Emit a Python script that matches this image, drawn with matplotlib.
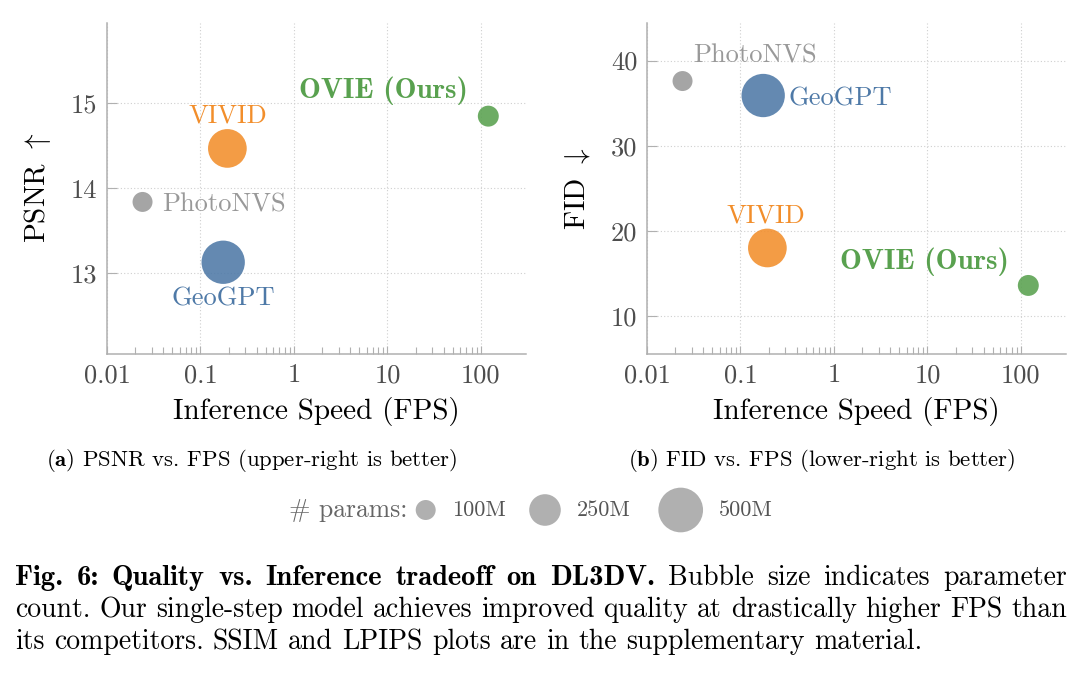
import matplotlib

matplotlib.use("Agg")
import matplotlib.pyplot as plt
import numpy as np

plt.rcParams["font.family"] = ["cmr10", "DejaVu Serif"]
plt.rcParams["mathtext.fontset"] = "cm"
plt.rcParams["axes.formatter.use_mathtext"] = True

# Data.
MODELS = ["PhotoNVS", "GeoGPT", "VIVID", "OVIE (Ours)"]
FPS = [0.024, 0.175, 0.194, 120.0]
PSNR = [13.84, 13.13, 14.47, 14.85]
FID = [37.6, 35.9, 18.0, 13.6]
PARAMS_M = [100, 470, 375, 110]
COLORS = ["#999999", "#4e79a7", "#f28e2b", "#59a14f"]

LEGEND_PARAMS = [100, 250, 500]
LEGEND_LABELS = ["100M", "250M", "500M"]

X_TICKS = [0.01, 0.1, 1, 10, 100]
X_TICK_LABELS = ["0.01", "0.1", "1", "10", "100"]
PSNR_TICKS = [13, 14, 15]
FID_TICKS = [10, 20, 30, 40]

# label offsets (points) relative to each bubble: (dx, dy, ha)
PSNR_LABEL_POS = [(14.2, 0.0, "left"), (0.4, -24.3, "center"), (0.5, 25.4, "center"), (-75.6, 20.7, "center")]
FID_LABEL_POS = [(52.0, 19.9, "center"), (18.2, -0.5, "left"), (-0.9, 25.4, "center"), (-74.9, 19.9, "center")]

CAPTION = [
    [("Fig. 6: Quality vs. Inference tradeoff on DL3DV.", True),
     ("Bubble size indicates parameter", False)],
    [("count. Our single-step model achieves improved quality at drastically higher FPS than", False)],
    [("its competitors. SSIM and LPIPS plots are in the supplementary material.", False)],
]

W, H = 1086, 673
SPINE = "#b0b0b0"
TICK_TEXT = "#4d4d4d"


def bubble_area(params):
    # area proportional to parameter count; 100M -> ~20 px diameter
    return 2.07 * np.asarray(params, dtype=float)


def draw_panel(ax, values, ylim, yticks, ylabel, label_pos):
    ax.scatter(FPS, values, s=bubble_area(PARAMS_M), c=COLORS, alpha=0.88,
               edgecolors="none", zorder=3)
    for name, x, y, color, (dx, dy, ha) in zip(MODELS, FPS, values, COLORS, label_pos):
        bold = name.startswith("OVIE")
        ax.annotate(name, (x, y), xytext=(dx, dy), textcoords="offset points",
                    ha=ha, va="center_baseline", color=color,
                    fontsize=21 if bold else 19,
                    family="cmb10" if bold else "cmr10", zorder=4)
    ax.set_xscale("log")
    ax.set_xlim(0.01, 300)
    ax.set_ylim(*ylim)
    ax.set_xticks(X_TICKS)
    ax.set_xticklabels(X_TICK_LABELS)
    minor = [m * d for d in (0.01, 0.1, 1, 10) for m in range(2, 10)]
    ax.set_xticks(minor, minor=True)
    ax.set_xticklabels([], minor=True)
    ax.set_yticks(yticks)
    ax.set_yticklabels([str(t) for t in yticks])
    ax.grid(True, which="major", color="#cfcfcf", linestyle=(0, (1, 2)), linewidth=0.8)
    ax.set_axisbelow(True)
    for side in ("top", "right"):
        ax.spines[side].set_visible(False)
    for side in ("left", "bottom"):
        ax.spines[side].set_color(SPINE)
        ax.spines[side].set_linewidth(1.1)
    ax.tick_params(which="both", direction="in", color=SPINE, width=0.8,
                   labelsize=19, labelcolor=TICK_TEXT)
    ax.tick_params(axis="x", which="major", length=6, pad=7)
    ax.tick_params(axis="x", which="minor", length=5)
    ax.tick_params(axis="y", which="major", length=7, pad=7)
    ax.set_xlabel("Inference Speed (FPS)", fontsize=21, va="center")
    ax.xaxis.set_label_coords(0.5, -0.174)
    ax.set_ylabel(ylabel, fontsize=21, va="center")
    ax.yaxis.set_label_coords(-0.167, 0.5)


fig = plt.figure(figsize=(W / 100, H / 100), dpi=100)
ax_a = fig.add_axes([107 / W, 1 - 354 / H, 418.5 / W, 331.3 / H])
ax_b = fig.add_axes([647 / W, 1 - 354 / H, 418.5 / W, 331.3 / H])
draw_panel(ax_a, PSNR, (12.05, 15.95), PSNR_TICKS, r"PSNR $\uparrow$", PSNR_LABEL_POS)
draw_panel(ax_b, FID, (5.55, 44.45), FID_TICKS, r"FID $\downarrow$", FID_LABEL_POS)

# overlay in pixel coordinates for captions and the size legend
lay = fig.add_axes([0, 0, 1, 1], zorder=-1)
lay.set_xlim(0, W)
lay.set_ylim(H, 0)
lay.axis("off")

lay.text(252, 460, r"$\mathbf{(a)}$ PSNR vs. FPS (upper-right is better)", ha="center", va="center",
         fontsize=16.4)
lay.text(822, 460, r"$\mathbf{(b)}$ FID vs. FPS (lower-right is better)", ha="center", va="center",
         fontsize=16.4)

lay.text(407, 510, "# params:", ha="right", va="center", fontsize=18.5, color="#666666")
legend_x = [425.7, 545, 680.7]
lay.scatter(legend_x, [510] * 3, s=bubble_area(LEGEND_PARAMS), color="#b0b0b0", edgecolors="none")
for lx, lab, p in zip(legend_x, LEGEND_LABELS, LEGEND_PARAMS):
    r = 10 * np.sqrt(p / 100)
    lay.text(lx + r + 16, 510, lab, ha="left", va="center", fontsize=16, color="#555555")

# justified caption
renderer = fig.canvas.get_renderer()
CAP_FS = 20
x0, x1 = 15, 1067
line_y = [578, 610, 642]
for i, (segments, y) in enumerate(zip(CAPTION, line_y)):
    words = []
    for seg, bold in segments:
        for w in seg.split(" "):
            words.append((w, bold))
    texts = [lay.text(0, y, w, fontsize=CAP_FS + (0.6 if b else 0), va="center", ha="left",
                      family="cmb10" if b else "cmr10") for w, b in words]
    widths = [t.get_window_extent(renderer).width for t in texts]
    if i < len(CAPTION) - 1:
        gap = (x1 - x0 - sum(widths)) / (len(words) - 1)
    else:
        gap = CAP_FS * 1.389 * 0.333
    x = x0
    for t, w in zip(texts, widths):
        t.set_x(x)
        x += w + gap

fig.savefig("out.png", dpi=100)
